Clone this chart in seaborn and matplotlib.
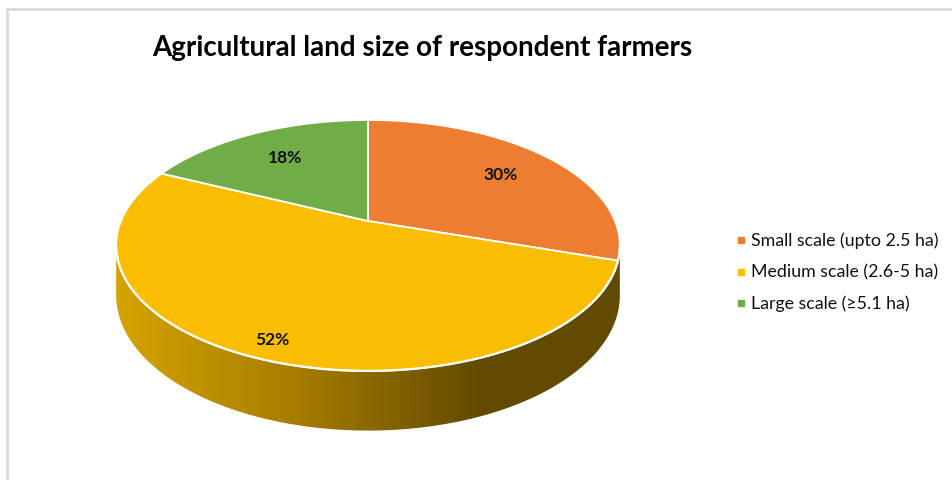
import numpy as np
import matplotlib
matplotlib.use("Agg")
import matplotlib.pyplot as plt
from matplotlib.patches import Polygon
import seaborn as sns

# ---- data ----
categories = ["Small scale (upto 2.5 ha)", "Medium scale (2.6-5 ha)", "Large scale (\u22655.1 ha)"]
shares = [30, 52, 18]
title = "Agricultural land size of respondent farmers"

sns.set_style("white")
plt.rcParams["font.family"] = ["Lato", "DejaVu Sans"]
palette = sns.color_palette(["#ED7D31", "#FBBD00", "#70AD47"])

W, H = 952, 481
fig = plt.figure(figsize=(W / 100, H / 100), dpi=100)
ax = fig.add_axes([0, 0, 1, 1])

# projection of the tilted disk (perspective)
CX, CY = 368.0, 222.0
A, B, K = 247.0, 120.7, 0.195
DEPTH = 48.0


def project(u, v, bottom=False):
    s = 1.0 + K * v
    x = CX + A * u / s
    y = CY - B * v / s
    if bottom:
        y = y + DEPTH / s
    return x, y


def arc(t0, t1, r=1.0, bottom=False, n=200):
    t = np.radians(np.linspace(t0, t1, n))
    return np.column_stack(project(r * np.sin(t), r * np.cos(t), bottom))


# slice angles, clockwise from 12 o'clock
total = float(sum(shares))
bounds = np.concatenate([[0.0], np.cumsum(shares) / total * 360.0])

# ---- side wall (front half) with horizontal shading ----
t_right = np.degrees(np.arccos(-K))
t_left = 360.0 - t_right
top_edge = arc(t_right, t_left)
bot_edge = arc(t_left, t_right, bottom=True)
side_pts = np.vstack([top_edge, bot_edge])
side = Polygon(side_pts, closed=True, facecolor="none", edgecolor="none", zorder=1)
ax.add_patch(side)

xs = np.linspace(0, W, 600)
stops_x = [116, 300, 480, 640]
stops_c = np.array([[214, 163, 0], [165, 124, 0], [98, 75, 0], [98, 74, 0]]) / 255.0
grad = np.stack([np.interp(xs, stops_x, stops_c[:, i]) for i in range(3)], axis=-1)
grad = np.repeat(grad[np.newaxis, :, :], 2, axis=0)
im = ax.imshow(grad, extent=[0, W, H, 0], aspect="auto", zorder=1, interpolation="bilinear")
im.set_clip_path(side)

# ---- top face slices ----
for i, share in enumerate(shares):
    pts = np.vstack([[project(0, 0)], arc(bounds[i], bounds[i + 1])])
    ax.add_patch(Polygon(pts, closed=True, facecolor=palette[i], edgecolor="white",
                         linewidth=1.3, joinstyle="round", zorder=3))

# white rim between top face and wall
ax.plot(top_edge[:, 0], top_edge[:, 1], color="white", lw=1.6, zorder=4)

# ---- percentage labels ----
label_r = [0.72, 0.88, 0.7]
for i, share in enumerate(shares):
    mid = np.radians((bounds[i] + bounds[i + 1]) / 2)
    x, y = project(label_r[i] * np.sin(mid), label_r[i] * np.cos(mid))
    ax.text(x, y, f"{share}%", ha="center", va="center", fontsize=12.5,
            fontweight="bold", color="#111111", zorder=5)

# ---- title ----
ax.text(422, 48, title, ha="center", va="center", fontsize=20,
        fontweight="bold", color="black")

# ---- legend ----
for i, cat in enumerate(categories):
    y = 241 + i * 31.5
    ax.plot([741], [y], marker="s", markersize=5, color=palette[i], linestyle="none")
    ax.text(751, y, cat, ha="left", va="center", fontsize=12.8, color="#111111")

# ---- chart frame ----
ax.plot([7, 7, W + 5], [H + 5, 10, 10], color="#D9D9D9", lw=2, solid_joinstyle="miter")

ax.set_xlim(0, W)
ax.set_ylim(H, 0)
ax.axis("off")
fig.savefig("out.png", dpi=100, facecolor="white")
